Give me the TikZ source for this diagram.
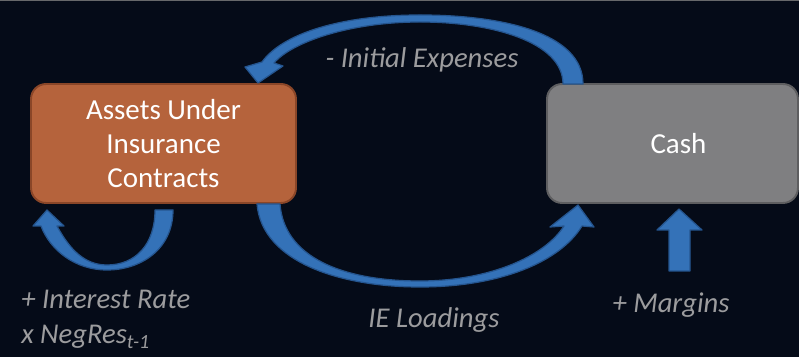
\documentclass[tikz,border=0pt]{standalone}
\usepackage{fontspec}
\setmainfont{Carlito}
\usetikzlibrary{arrows.meta}

\definecolor{bgnavy}{HTML}{050B18}
\definecolor{assetfill}{HTML}{B5633C}
\definecolor{assetdraw}{HTML}{8A4628}
\definecolor{cashfill}{HTML}{7F7F81}
\definecolor{cashdraw}{HTML}{5E5E60}
\definecolor{flowblue}{HTML}{3472B8}
\definecolor{flowdark}{HTML}{25558F}
\definecolor{labelgray}{HTML}{9C9C9E}

\begin{document}
\begin{tikzpicture}[
  x=0.02cm,
  y=-0.02cm,
  line join=round,
  font=\fontsize{16.5}{19.5}\selectfont,
  account/.style={
    rectangle,
    rounded corners=0.3cm,
    minimum height=2.38cm,
    inner sep=0pt,
    line width=1.1pt,
    text=white,
    align=center
  },
  flow/.style={
    fill=flowblue,
    draw=flowdark,
    line width=0.7pt
  },
  flowlabel/.style={
    font=\fontsize{16.3}{20}\selectfont\itshape,
    text=labelgray,
    inner sep=0pt
  }
]

% background and frame of the slide
\fill[bgnavy] (0,0) rectangle (799,357);
\fill[black!75!bgnavy!60!white] (0,0) rectangle (799,1.5);
\useasboundingbox (0,0) rectangle (799,357);

% the two accounts
\node[account,fill=assetfill,draw=assetdraw,minimum width=5.3cm]
  (assets) at (163.5,143.5) {Assets Under\\Insurance\\Contracts};
\node[account,fill=cashfill,draw=cashdraw,minimum width=5.02cm]
  (cash) at (672.5,143.5) {\hspace*{0.24cm}Cash};

% - Initial Expenses: cash back to assets, over the top
\path[flow] (583,84) .. controls (583,32) and (500,15) .. (420,15)
  .. controls (340,15) and (282,34) .. (262,62)
  -- (245,67) -- (258,83) -- (283,66) -- (274,63)
  .. controls (292,42) and (350,22) .. (420,22)
  .. controls (492,22) and (563,42) .. (563,84) -- cycle;

% IE Loadings: assets to cash, under the boxes
\path[flow] (257,204) .. controls (262,262) and (340,287) .. (420,287)
  .. controls (500,287) and (560,262) .. (582,226)
  -- (594,227) -- (578,205) -- (550,227) -- (564,226)
  .. controls (545,256) and (490,281) .. (420,281)
  .. controls (340,281) and (284,256) .. (280,204) -- cycle;

% + Interest Rate x NegRes: loop on the assets
\path[flow] (173,210) .. controls (173,250) and (140,270) .. (107,270)
  .. controls (75,270) and (50,250) .. (41,226)
  -- (33,226) -- (47,210) -- (64,226) -- (57,226)
  .. controls (70,250) and (85,265) .. (107,265)
  .. controls (135,265) and (155,245) .. (155,210) -- cycle;

% + Margins: straight into the cash
\path[flow] (669,271) -- (669,230) -- (657,230) -- (679,209)
  -- (702,230) -- (690,230) -- (690,271) -- cycle;

% labels of the flows
\node[flowlabel] (lexp) at (422,60) {- Initial Expenses};
\node[flowlabel] (lload) at (434,320) {IE Loadings};
\node[flowlabel] (lmarg) at (671,305) {+ Margins};
\node[flowlabel,anchor=north west,align=left] (lint) at (21,290)
  {+ Interest Rate\\x NegRes\textsubscript{t-1}};

\end{tikzpicture}
\end{document}
